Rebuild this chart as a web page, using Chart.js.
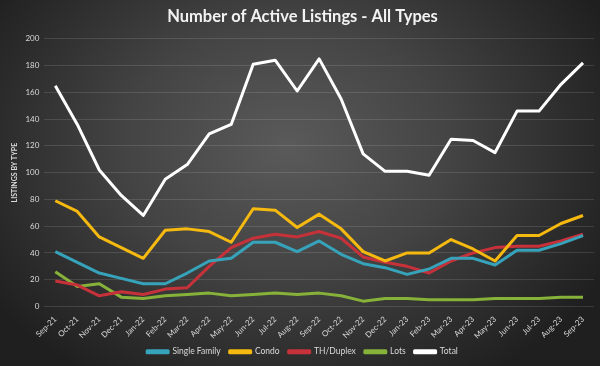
<!DOCTYPE html>
<html>
<head>
<meta charset="utf-8">
<script src="https://cdn.jsdelivr.net/npm/chart.js@4.4.0/dist/chart.umd.min.js"></script>
<style>
  html, body { margin: 0; padding: 0; }
  #wrap {
    width: 600px; height: 366px; position: relative;
    background: radial-gradient(ellipse 60% 75% at 48% 40%, #5a5a5a 0%, #444 45%, #2c2c2c 80%, #1f1f1f 100%);
  }
</style>
</head>
<body>
<div id="wrap"><canvas id="chart" width="600" height="366"></canvas></div>
<script>
'use strict';

const months = ['Sep-21', 'Oct-21', 'Nov-21', 'Dec-21', 'Jan-22', 'Feb-22', 'Mar-22', 'Apr-22', 'May-22',
  'Jun-22', 'Jul-22', 'Aug-22', 'Sep-22', 'Oct-22', 'Nov-22', 'Dec-22', 'Jan-23', 'Feb-23', 'Mar-23',
  'Apr-23', 'May-23', 'Jun-23', 'Jul-23', 'Aug-23', 'Sep-23'];

const singleFamily = [41, 33, 25, 21, 17, 17, 25, 34, 36, 48, 48, 41, 49, 39, 32, 29, 24, 28, 36, 36, 31, 42, 42, 47, 53];
const condo = [79, 71, 52, 44, 36, 57, 58, 56, 48, 73, 72, 59, 69, 58, 41, 34, 40, 40, 50, 43, 34, 53, 53, 62, 68];
const thDuplex = [19, 16, 8, 11, 9, 13, 14, 30, 44, 51, 54, 52, 56, 51, 37, 33, 30, 25, 34, 40, 44, 45, 45, 49, 54];
const lots = [26, 15, 17, 7, 6, 8, 9, 10, 8, 9, 10, 9, 10, 8, 4, 6, 6, 5, 5, 5, 6, 6, 6, 7, 7];
const total = [165, 136, 102, 83, 68, 95, 106, 129, 136, 181, 184, 161, 185, 155, 114, 101, 101, 98, 125, 124, 115, 146, 146, 166, 182];

const textColor = '#d9d9d9';
const fontFamily = 'Lato, "Open Sans", sans-serif';

function series(label, data, color) {
  return {
    label: label,
    data: data,
    borderColor: color,
    backgroundColor: color,
    borderWidth: 3,
    pointRadius: 0,
    tension: 0,
    borderJoinStyle: 'round'
  };
}

const ctx = document.getElementById('chart').getContext('2d');
new Chart(ctx, {
  type: 'line',
  data: {
    labels: months,
    datasets: [
      series('Single Family', singleFamily, '#36a3ba'),
      series('Condo', condo, '#f5b90f'),
      series('TH/Duplex', thDuplex, '#c7313a'),
      series('Lots', lots, '#86b23a'),
      series('Total', total, '#ffffff')
    ]
  },
  options: {
    responsive: false,
    animation: false,
    layout: { padding: { left: 11, right: 6, top: 0, bottom: 0 } },
    plugins: {
      title: {
        display: true,
        text: 'Number of Active Listings - All Types',
        color: '#f2f2f2',
        font: { family: fontFamily, size: 16.5, weight: 'bold' },
        padding: { top: 7, bottom: 12 }
      },
      legend: {
        position: 'bottom',
        labels: {
          color: textColor,
          font: { family: fontFamily, size: 8.5 },
          boxWidth: 21,
          boxHeight: 2,
          padding: 9
        }
      },
      tooltip: { enabled: false }
    },
    scales: {
      x: {
        offset: true,
        grid: { display: false },
        border: { display: false },
        afterFit(scale) { scale.height = 32; },
        ticks: {
          color: textColor,
          font: { family: fontFamily, size: 8 },
          maxRotation: 45,
          minRotation: 45,
          autoSkip: false,
          padding: 0
        }
      },
      y: {
        min: 0,
        max: 200,
        ticks: {
          stepSize: 20,
          color: textColor,
          font: { family: fontFamily, size: 8 },
          padding: 5
        },
        grid: { color: 'rgba(255,255,255,0.12)', drawTicks: false },
        border: { display: false },
        title: {
          display: true,
          text: 'LISTINGS BY TYPE',
          color: textColor,
          font: { family: fontFamily, size: 7, weight: 'bold' },
          padding: { top: 0, bottom: 1 }
        }
      }
    }
  }
});
</script>
</body>
</html>
